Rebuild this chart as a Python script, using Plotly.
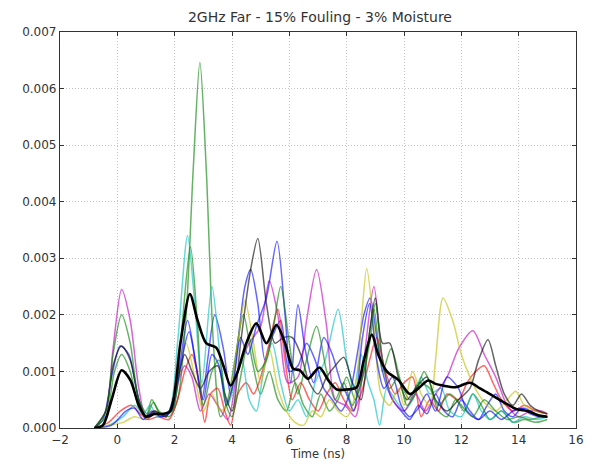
import plotly.graph_objects as go

SCALE = 1e-3  # values below are in units of 1e-3

title_text = "2GHz Far - 15% Fouling - 3% Moisture"
x_title = "Time (ns)"
x_ticks = [-2, 0, 2, 4, 6, 8, 10, 12, 14, 16]
y_ticks = [0.000, 0.001, 0.002, 0.003, 0.004, 0.005, 0.006, 0.007]

blue_a_t = [-0.8,-0.5,-0.2,0.1,0.4,0.7,1.0,1.3,1.6,1.9,2.2,2.45,2.75,2.95,3.15,3.4,3.7,3.95,4.2,4.45,4.65,4.9,5.15,5.4,5.7,6.0,6.3,6.6,6.9,7.2,7.5,7.8,8.1,8.4,8.6,8.82,9.05,9.3,9.6,9.9,10.2,10.5,10.8,11.1,11.4,11.7,12.0,12.3,12.6,12.9,13.2,13.5,13.8,14.1,14.4,14.7,15.0]
blue_a_y = [0,0.15,0.9,1.45,1.3,0.6,0.15,0.25,0.2,0.35,1.2,1.9,1.1,0.5,1.2,2.0,1.4,0.6,1.5,2.5,2.8,2.2,1.2,1.6,1.9,1.0,1.1,1.5,1.2,0.7,0.5,0.3,0.6,1.4,2.0,2.3,1.6,0.9,0.5,0.3,0.15,0.4,0.25,0.6,0.3,0.2,0.5,0.3,0.15,0.4,0.6,0.3,0.2,0.35,0.25,0.2,0.2]

green_a_t = [-0.8,-0.4,-0.1,0.15,0.45,0.75,1.0,1.2,1.45,1.8,2.1,2.4,2.65,2.88,3.1,3.35,3.6,3.85,4.1,4.4,4.7,5.0,5.3,5.6,5.9,6.2,6.5,6.8,7.1,7.4,7.7,8.0,8.3,8.6,8.95,9.25,9.55,9.9,10.2,10.5,10.9,11.2,11.5,11.8,12.1,12.4,12.7,13.0,13.4,13.8,14.2,14.6,15.0]
green_a_y = [0,0.2,1.0,1.3,1.0,0.35,0.2,0.5,0.3,0.2,0.5,2.0,4.6,6.46,4.6,1.5,0.2,0.5,1.2,2.0,1.2,0.6,1.0,0.5,0.3,0.8,0.4,0.2,0.6,0.3,0.5,0.9,0.5,1.0,2.1,1.0,1.4,0.8,0.5,0.8,0.7,0.3,0.2,0.5,0.3,0.6,0.4,0.15,0.3,0.1,0.15,0.1,0.15]

red_t = [-0.8,-0.3,0.1,0.5,0.8,1.1,1.4,1.8,2.1,2.35,2.6,2.85,3.05,3.25,3.5,3.75,3.95,4.2,4.5,4.75,5.0,5.3,5.6,5.85,6.1,6.4,6.7,7.0,7.3,7.6,7.9,8.2,8.5,8.8,9.05,9.35,9.7,10.0,10.3,10.6,10.9,11.2,11.5,11.9,12.2,12.5,12.8,13.1,13.4,13.8,14.2,14.6,15.0]
red_y = [0,0.1,0.3,0.4,0.25,0.15,0.2,0.15,0.5,1.0,1.3,0.8,0.1,0.6,0.7,0.3,0.05,0.6,0.8,0.6,0.9,1.5,2.1,1.2,0.5,0.8,0.5,0.3,0.6,0.8,0.5,0.3,0.6,1.2,1.6,1.0,0.6,0.8,0.9,0.2,0.5,0.3,0.6,0.5,0.8,1.0,1.1,0.8,0.5,0.3,0.4,0.3,0.25]

cyan_t = [-0.8,-0.3,0.2,0.6,0.9,1.15,1.4,1.8,2.1,2.45,2.7,2.95,3.3,3.6,3.85,4.1,4.35,4.6,4.85,5.1,5.4,5.7,6.0,6.3,6.6,6.9,7.25,7.7,8.0,8.25,8.5,8.75,8.95,9.15,9.4,9.7,10.0,10.3,10.6,10.9,11.3,11.6,12.0,12.4,12.7,13.0,13.4,13.8,14.2,14.6,15.0]
cyan_y = [0,0.05,0.2,0.4,0.25,0.4,0.2,0.3,1.5,3.4,2.2,0.8,2.5,1.2,0.4,0.8,1.2,0.5,0.3,1.0,1.5,0.8,0.3,0.5,0.2,0.8,1.2,2.1,1.2,0.7,1.3,0.8,0.5,0.05,0.7,0.5,0.3,0.5,0.9,0.6,0.7,0.3,0.2,0.6,0.3,0.15,0.3,0.1,0.2,0.15,0.2]

magenta_t = [-0.8,-0.4,-0.15,0.15,0.45,0.75,1.0,1.3,1.7,2.0,2.35,2.6,2.9,3.2,3.5,3.85,4.2,4.6,5.0,5.3,5.6,5.95,6.3,6.6,6.95,7.3,7.6,7.95,8.3,8.6,8.95,9.25,9.6,10.0,10.4,10.75,11.1,11.5,11.9,12.4,12.8,13.2,13.6,14.0,14.4,14.8,15.0]
magenta_y = [0,0.3,1.4,2.45,1.9,0.7,0.2,0.3,0.2,0.6,1.1,0.9,0.3,0.6,0.4,0.15,1.0,1.5,1.8,2.6,2.0,0.8,0.9,1.9,2.8,1.8,0.5,0.4,0.2,1.2,2.5,1.2,0.5,0.3,0.6,0.3,0.6,0.9,1.4,1.72,1.3,0.9,0.4,0.2,0.3,0.3,0.25]

yellow_t = [-0.8,-0.3,0.2,0.6,1.0,1.3,1.7,2.0,2.4,2.7,3.0,3.3,3.6,3.9,4.2,4.45,4.75,5.0,5.3,5.6,5.9,6.2,6.5,6.8,7.1,7.4,7.7,8.0,8.3,8.5,8.7,8.95,9.2,9.5,9.8,10.0,10.3,10.6,10.9,11.1,11.36,11.7,12.0,12.3,12.6,12.9,13.2,13.6,13.9,14.2,14.6,15.0]
yellow_y = [0,0.05,0.1,0.2,0.15,0.3,0.2,0.5,1.5,0.9,0.3,0.6,0.3,0.5,1.5,2.25,1.5,0.8,1.4,0.7,0.3,0.1,0.05,0.3,0.2,0.5,0.3,0.2,0.6,1.8,2.82,1.8,0.6,0.4,0.7,0.4,1.0,0.6,0.4,1.2,2.3,1.9,1.3,0.9,0.6,0.4,0.3,0.5,0.65,0.4,0.3,0.25]

gray_t = [-0.8,-0.4,-0.15,0.15,0.45,0.75,1.0,1.3,1.7,2.0,2.35,2.6,2.9,3.2,3.5,3.75,4.0,4.3,4.65,4.9,5.2,5.5,5.8,6.1,6.4,6.7,7.0,7.3,7.6,7.9,8.2,8.5,8.75,9.0,9.25,9.5,9.8,10.1,10.4,10.8,11.1,11.5,11.9,12.3,12.6,12.93,13.2,13.5,13.8,14.1,14.4,14.7,15.0]
gray_y = [0,0.3,1.1,1.45,1.2,0.5,0.2,0.3,0.2,0.6,1.3,1.0,0.7,1.0,1.1,0.6,0.3,1.5,2.8,3.35,2.2,1.5,1.6,1.6,1.3,0.8,0.6,0.9,1.1,1.25,0.8,0.5,1.5,2.3,1.5,1.5,0.9,0.5,0.7,0.9,0.5,0.3,0.5,0.7,1.2,1.56,1.1,0.6,0.4,0.6,0.4,0.3,0.25]

blue_b_t = [-0.8,-0.2,0.3,0.6,0.9,1.2,1.5,1.9,2.2,2.5,2.75,3.0,3.3,3.55,3.8,4.05,4.3,4.55,4.85,5.2,5.57,5.85,6.05,6.3,6.55,6.85,7.2,7.5,7.8,8.0,8.25,8.55,8.8,9.05,9.3,9.6,9.9,10.2,10.5,10.8,11.1,11.5,11.9,12.2,12.6,13.0,13.4,13.8,14.2,14.6,15.0]
blue_b_y = [0,0.05,0.3,0.35,0.15,0.3,0.2,0.3,1.1,1.7,1.1,0.5,1.3,1.1,0.4,0.8,1.6,1.3,1.8,2.3,3.3,2.0,0.8,2.18,1.4,0.8,1.6,1.3,0.8,0.6,0.3,1.6,2.2,1.2,0.7,0.9,0.4,0.2,0.35,0.6,0.3,0.9,0.7,0.3,0.15,0.3,0.15,0.3,0.35,0.25,0.2]

green_b_t = [-0.8,-0.4,-0.15,0.15,0.45,0.75,1.05,1.25,1.5,1.9,2.2,2.55,2.8,3.0,3.3,3.55,3.8,4.0,4.3,4.6,4.9,5.2,5.45,5.7,6.0,6.3,6.6,6.95,7.3,7.6,7.9,8.2,8.5,8.8,9.0,9.25,9.5,9.8,10.1,10.4,10.7,10.9,11.2,11.6,12.0,12.4,12.8,13.2,13.6,14.0,14.4,14.8,15.0]
green_b_y = [0,0.3,1.3,2.0,1.5,0.5,0.25,0.45,0.25,0.3,1.5,3.2,1.8,0.4,1.0,1.2,0.4,0.2,0.9,1.6,1.0,1.2,1.8,2.5,1.5,0.6,1.2,1.8,1.0,0.5,0.8,0.4,0.8,1.5,2.2,1.2,0.7,0.9,0.4,0.6,1.0,0.8,0.4,0.6,0.4,0.2,0.5,0.3,0.15,0.2,0.15,0.2,0.2]

mean_t = [-0.8,-0.5,-0.2,0.15,0.45,0.75,1.0,1.3,1.6,1.85,2.2,2.53,2.8,3.1,3.45,3.7,3.95,4.2,4.5,4.85,5.2,5.55,5.85,6.13,6.37,6.65,7.05,7.35,7.66,8.0,8.35,8.6,8.88,9.1,9.4,9.8,10.2,10.5,10.84,11.1,11.36,11.8,12.3,12.65,13.0,13.5,13.94,14.3,14.7,15.0]
mean_y = [0,0.05,0.5,1.02,0.85,0.4,0.2,0.25,0.25,0.3,1.5,2.37,1.9,1.5,1.42,1.1,0.75,1.0,1.5,1.85,1.5,1.82,1.5,1.05,1.02,0.87,1.07,0.85,0.68,0.68,0.72,1.2,1.65,1.3,1.0,0.85,0.6,0.7,0.84,0.78,0.75,0.72,0.8,0.7,0.6,0.45,0.33,0.3,0.22,0.2]

series = [
    ("b", blue_a_t, blue_a_y, "#0000ff"),
    ("g", green_a_t, green_a_y, "#008000"),
    ("r", red_t, red_y, "#ff0000"),
    ("c", cyan_t, cyan_y, "#00bfbf"),
    ("m", magenta_t, magenta_y, "#bf00bf"),
    ("y", yellow_t, yellow_y, "#bfbf00"),
    ("k", gray_t, gray_y, "#000000"),
    ("b2", blue_b_t, blue_b_y, "#0000ff"),
    ("g2", green_b_t, green_b_y, "#008000"),
]

fig = go.Figure()
for name, t, y, col in series:
    assert len(t) == len(y), name
    fig.add_trace(go.Scatter(
        x=t, y=[v * SCALE for v in y], mode="lines", name=name,
        line=dict(color=col, width=1.5, shape="spline", smoothing=0.8),
        opacity=0.6, showlegend=False, hoverinfo="skip"))

assert len(mean_t) == len(mean_y)
fig.add_trace(go.Scatter(
    x=mean_t, y=[v * SCALE for v in mean_y], mode="lines", name="mean",
    line=dict(color="#000000", width=2.6, shape="spline", smoothing=0.8),
    showlegend=False, hoverinfo="skip"))

axis_common = dict(
    showline=True, linecolor="#333333", linewidth=1.2, mirror="ticks",
    ticks="inside", ticklen=4, tickcolor="#333333", tickwidth=1,
    showgrid=True, gridcolor="#c4c4c4", griddash="1px,2px", gridwidth=1,
    zeroline=False, tickfont=dict(family="DejaVu Sans", size=12, color="#333333"),
)

fig.update_layout(
    width=598, height=471,
    margin=dict(l=60, r=22, t=32, b=40),
    paper_bgcolor="white", plot_bgcolor="white",
    title=dict(text=title_text, x=0.535, xanchor="center", y=0.963, yanchor="middle",
               font=dict(family="DejaVu Sans", size=14, color="#333333")),
    xaxis=dict(range=[-2, 16], tickvals=x_ticks, title=dict(text=x_title, standoff=4,
               font=dict(family="DejaVu Sans", size=11.5, color="#333333")), **axis_common),
    yaxis=dict(range=[0, 0.007], tickvals=y_ticks, tickformat=".3f", **axis_common),
)

fig.write_html("out.html")
